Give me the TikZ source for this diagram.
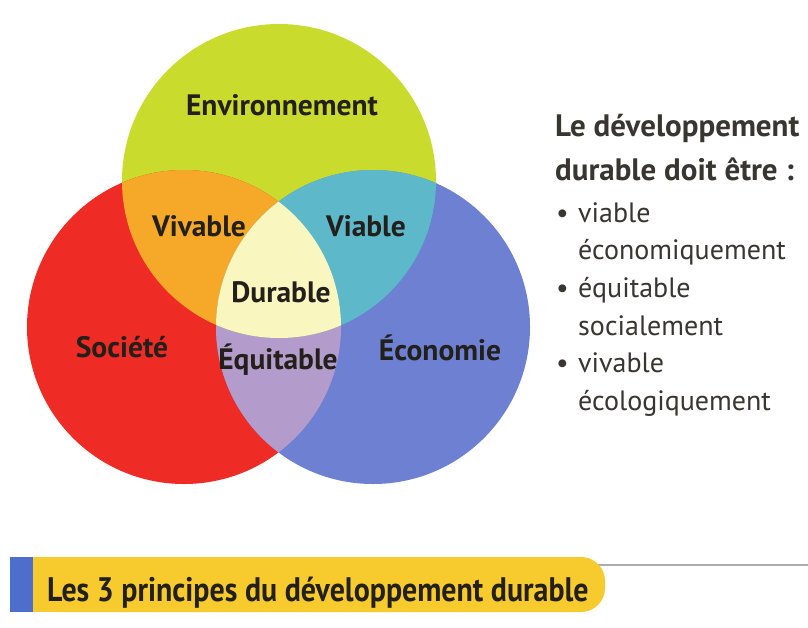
\documentclass[tikz,border=0pt]{standalone}
\usepackage{fontspec}
\setmainfont{PT Sans}
\newfontfamily\etroite{PT Sans}[FakeStretch=0.88]
\definecolor{envgreen}{HTML}{C9DC2E}
\definecolor{socred}{HTML}{EE2B25}
\definecolor{ecoblue}{HTML}{6D80D2}
\definecolor{vivorange}{HTML}{F6A928}
\definecolor{viateal}{HTML}{5DB8C9}
\definecolor{equlilac}{HTML}{B39BCB}
\definecolor{durcream}{HTML}{FAF6C0}
\definecolor{bannerjaune}{HTML}{F7CB2D}
\definecolor{barbleu}{HTML}{4D6ECB}
\definecolor{encre}{HTML}{231F1A}
\begin{document}
\begin{tikzpicture}[x=1pt,y=-1pt,
	zone/.style={font=\bfseries\fontsize{29.5}{32}\selectfont, text=encre},
	ligne/.style={font=\fontsize{28}{32}\selectfont, text=encre!90, anchor=base west, inner sep=0pt},
	titre/.style={ligne, font=\bfseries\fontsize{31}{34}\selectfont}]
	\useasboundingbox (0,0) rectangle (808,627);
	\fill[white] (0,0) rectangle (808,627);

	\coordinate (EnvC) at (279,181);
	\coordinate (SocC) at (184,327);
	\coordinate (EcoC) at (373,327);

	\fill[envgreen] (EnvC) circle (157);
	\fill[socred] (SocC) circle (157);
	\fill[ecoblue] (EcoC) circle (157);
	\begin{scope}
		\clip (SocC) circle (157);
		\fill[equlilac] (EcoC) circle (157);
	\end{scope}
	\begin{scope}
		\clip (EnvC) circle (157);
		\fill[vivorange] (SocC) circle (157);
		\fill[viateal] (EcoC) circle (157);
		\clip (SocC) circle (157);
		\fill[durcream] (EcoC) circle (157);
	\end{scope}

	\node (Env) [zone] at (282,105) {Environnement};
	\node (Viv) [zone] at (199,226) {Vivable};
	\node (Via) [zone] at (366,226) {Viable};
	\node (Dur) [zone] at (281,292) {Durable};
	\node (Soc) [zone] at (122,347) {Société};
	\node (Equ) [zone] at (278,360) {Équitable};
	\node (Eco) [zone] at (440,348) {Économie};

	\node (T1) [titre] at (555,136) {Le développement};
	\node (T2) [titre] at (555,180) {durable doit être :};
	\node (L1) [ligne] at (556,222) {\makebox[22pt][l]{\textbullet}viable};
	\node (L2) [ligne] at (578,259) {économiquement};
	\node (L3) [ligne] at (556,297) {\makebox[22pt][l]{\textbullet}équitable};
	\node (L4) [ligne] at (578,335) {socialement};
	\node (L5) [ligne] at (556,372) {\makebox[22pt][l]{\textbullet}vivable};
	\node (L6) [ligne] at (578,410) {écologiquement};

	\draw[gray!65, line width=2pt] (590,565) -- (808,565);
	\fill[bannerjaune, rounded corners=24pt] (33,557) rectangle (605,612);
	\fill[bannerjaune] (33,557) rectangle (90,612);
	\fill[barbleu] (10,557) rectangle (33,612);
	\node (Bandeau) [anchor=base west, inner sep=0pt, text=encre, font=\etroite\bfseries\fontsize{34}{38}\selectfont] at (47,601) {Les 3 principes du développement durable};
\end{tikzpicture}
\end{document}
